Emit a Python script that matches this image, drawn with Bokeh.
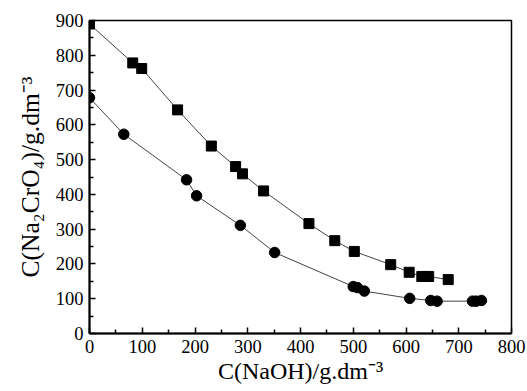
from bokeh.plotting import figure
from bokeh.models import FixedTicker, Range1d
from bokeh.embed import file_html
from bokeh.resources import INLINE

# Data
sq_x = [0, 82, 99, 167, 231, 277, 290, 330, 416, 465, 502, 571, 606, 630, 643, 680]
sq_y = [890, 778, 762, 643, 539, 480, 459, 410, 316, 267, 236, 198, 176, 164, 164, 155]
ci_x = [0, 65, 184, 203, 286, 351, 500, 508, 521, 607, 647, 659, 726, 733, 743]
ci_y = [678, 573, 442, 396, 311, 233, 135, 132, 122, 101, 95, 93, 93, 93, 95]
x_ticks = [0, 100, 200, 300, 400, 500, 600, 700, 800]
y_ticks = [0, 100, 200, 300, 400, 500, 600, 700, 800, 900]

FONT = "Liberation Serif"

p = figure(width=527, height=391, output_backend="svg", toolbar_location=None,
           x_range=Range1d(0, 800), y_range=Range1d(0, 900),
           min_border_left=89, min_border_right=16, min_border_top=20, min_border_bottom=58)
p.grid.visible = False
p.background_fill_color = "white"
p.border_fill_color = "white"
p.outline_line_color = "black"
p.outline_line_width = 1.5

p.line(sq_x, sq_y, line_color="#444444", line_width=1)
p.line(ci_x, ci_y, line_color="#444444", line_width=1)
p.scatter(sq_x, sq_y, marker="square", size=10, fill_color="black", line_color="black")
p.scatter(ci_x, ci_y, marker="circle", size=10.5, fill_color="black", line_color="black")

p.xaxis.ticker = FixedTicker(ticks=x_ticks, minor_ticks=[50 + 100 * i for i in range(8)])
p.yaxis.ticker = FixedTicker(ticks=y_ticks, minor_ticks=[50 + 100 * i for i in range(9)])

for ax in (p.xaxis[0], p.yaxis[0]):
    ax.axis_line_width = 2
    ax.axis_line_color = "black"
    ax.major_tick_in = 6
    ax.major_tick_out = 0
    ax.minor_tick_in = 4
    ax.minor_tick_out = 0
    ax.major_tick_line_width = 1.5
    ax.minor_tick_line_width = 1.5
    ax.major_label_text_font = FONT
    ax.major_label_text_font_size = "18.5px"
    ax.major_label_text_color = "black"
    ax.axis_label_text_font = FONT
    ax.axis_label_text_font_style = "normal"
    ax.axis_label_text_color = "black"

p.xaxis.axis_label_text_font_size = "24px"
p.yaxis.axis_label_text_font_size = "25.5px"
p.xaxis.major_label_standoff = 6
p.yaxis.major_label_standoff = 6
p.xaxis.axis_label = "C(NaOH)/g.dm\u207b\u00b3"
p.yaxis.axis_label = "C(Na\u2082CrO\u2084)/g.dm\u207b\u00b3"
p.xaxis.axis_label_standoff = 2
p.yaxis.axis_label_standoff = 8

open("out.html", "w").write(file_html(p, INLINE))
